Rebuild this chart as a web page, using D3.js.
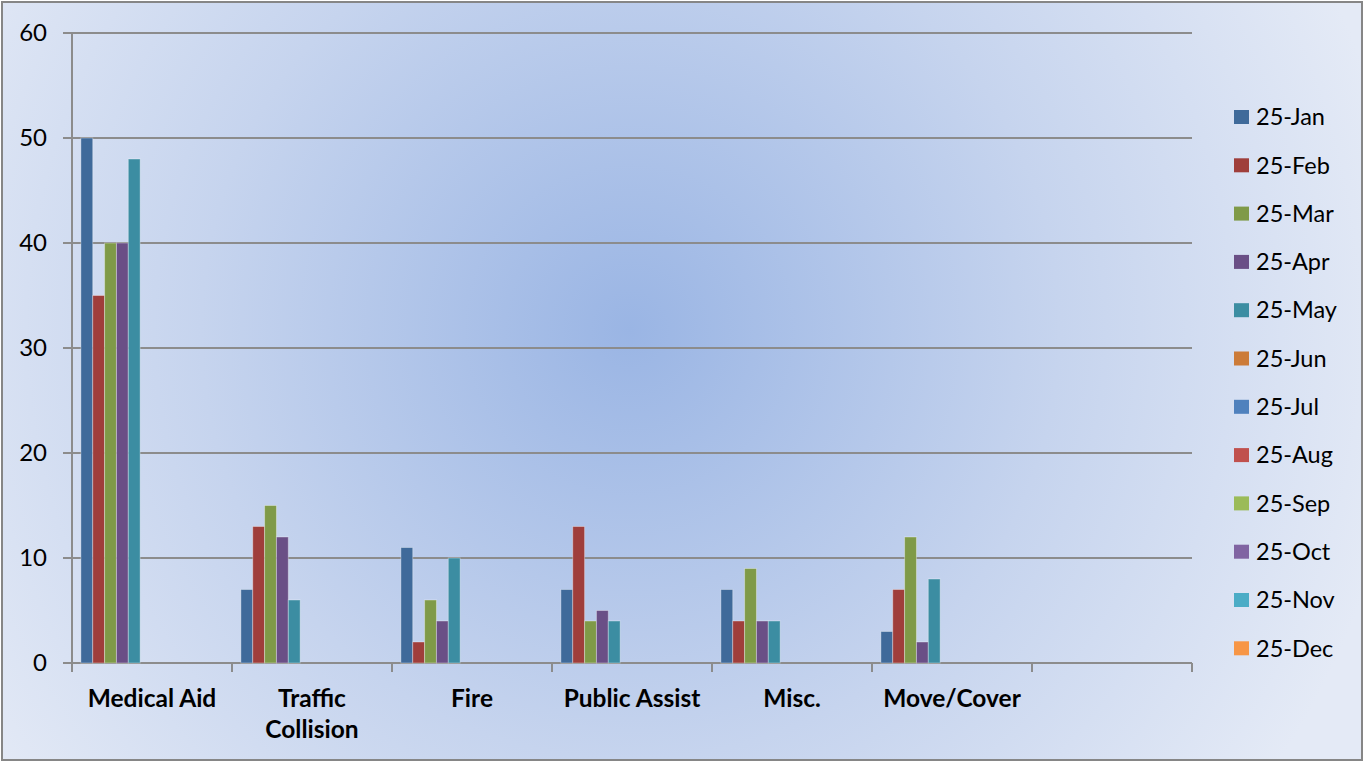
<!DOCTYPE html>
<html>
<head>
<meta charset="utf-8">
<script src="https://cdn.jsdelivr.net/npm/d3@7"></script>
<style>
  body { margin: 0; overflow: hidden; }
  text { font-family: Lato, "Open Sans", sans-serif; fill: #000; }
</style>
</head>
<body>
<div id="container"></div>
<script>
/* CONSTANTS AND GLOBALS */
const width = 1364;
const height = 762;
const plot = { left: 72, right: 1192, top: 33, bottom: 663 };

/* DATA */
const categories = ["Medical Aid", "Traffic Collision", "Fire", "Public Assist", "Misc.", "Move/Cover", ""];
const months = ["25-Jan", "25-Feb", "25-Mar", "25-Apr", "25-May", "25-Jun",
                "25-Jul", "25-Aug", "25-Sep", "25-Oct", "25-Nov", "25-Dec"];
const colors = ["#3F6A9A", "#9F3E3B", "#7F9A48", "#6A4F86", "#3C8DA2", "#CC7B38",
                "#4F81BD", "#C0504D", "#9BBB59", "#8064A2", "#4BACC6", "#F79646"];
const jan = [50, 7, 11, 7, 7, 3, null];
const feb = [35, 13, 2, 13, 4, 7, null];
const mar = [40, 15, 6, 4, 9, 12, null];
const apr = [40, 12, 4, 5, 4, 2, null];
const may = [48, 6, 10, 4, 4, 8, null];
const yTicks = [0, 10, 20, 30, 40, 50, 60];

const series = [jan, feb, mar, apr, may, [], [], [], [], [], [], []];

/* SVG */
const svg = d3.select("#container")
  .append("svg")
  .attr("width", width)
  .attr("height", height);

// background gradient
const defs = svg.append("defs");
const grad = defs.append("radialGradient")
  .attr("id", "bg")
  .attr("gradientUnits", "userSpaceOnUse")
  .attr("cx", 630).attr("cy", 330).attr("r", 780);
grad.append("stop").attr("offset", "0%").attr("stop-color", "#9AB5E4");
grad.append("stop").attr("offset", "55%").attr("stop-color", "#C6D4EE");
grad.append("stop").attr("offset", "100%").attr("stop-color", "#E4EAF6");

svg.append("rect")
  .attr("x", 2).attr("y", 2)
  .attr("width", width - 4).attr("height", height - 4)
  .attr("fill", "url(#bg)")
  .attr("stroke", "#868686")
  .attr("stroke-width", 2);

/* SCALES */
const x0 = d3.scaleBand()
  .domain(d3.range(categories.length))
  .range([plot.left, plot.right]);

const gap = x0.bandwidth() * 0.75 / 13.5;
const x1 = d3.scaleBand()
  .domain(d3.range(months.length))
  .range([gap, x0.bandwidth() - gap]);

const y = d3.scaleLinear()
  .domain([0, 60])
  .range([plot.bottom, plot.top]);

// gridlines
svg.append("g")
  .selectAll("line")
  .data(yTicks)
  .join("line")
  .attr("x1", plot.left - 9)
  .attr("x2", plot.right)
  .attr("y1", d => y(d))
  .attr("y2", d => y(d))
  .attr("stroke", "#8C8C8C")
  .attr("stroke-width", 2);

// y axis line
svg.append("line")
  .attr("x1", plot.left).attr("x2", plot.left)
  .attr("y1", plot.top).attr("y2", plot.bottom + 9)
  .attr("stroke", "#8C8C8C")
  .attr("stroke-width", 2);

// x ticks at category boundaries
svg.append("g")
  .selectAll("line")
  .data(d3.range(categories.length + 1))
  .join("line")
  .attr("x1", d => d < categories.length ? x0(d) : plot.right)
  .attr("x2", d => d < categories.length ? x0(d) : plot.right)
  .attr("y1", plot.bottom)
  .attr("y2", plot.bottom + 9)
  .attr("stroke", "#8C8C8C")
  .attr("stroke-width", 2);

// y tick labels
svg.append("g")
  .selectAll("text")
  .data(yTicks)
  .join("text")
  .attr("x", 47)
  .attr("y", d => y(d))
  .attr("dy", "0.35em")
  .attr("text-anchor", "end")
  .style("font-size", "24px")
  .text(d => d);

// bars
const groups = svg.append("g")
  .selectAll("g")
  .data(series)
  .join("g")
  .attr("fill", (d, i) => colors[i]);

groups.selectAll("rect")
  .data((d, i) => d.map((v, c) => ({ v, c, s: i })).filter(o => o.v != null))
  .join("rect")
  .attr("x", d => x0(d.c) + x1(d.s))
  .attr("y", d => y(d.v))
  .attr("width", x1.bandwidth())
  .attr("height", d => y(0) - y(d.v))
  .attr("stroke", "rgba(255,255,255,0.35)")
  .attr("stroke-width", 1);

// x labels
const xLab = svg.append("g")
  .selectAll("text")
  .data(categories)
  .join("text")
  .attr("text-anchor", "middle")
  .attr("y", 698)
  .style("font-size", "24.5px")
  .style("font-weight", "bold");

xLab.each(function (d, i) {
  const words = d === "Traffic Collision" ? ["Traffic", "Collision"] : [d];
  const cx = x0(i) + x0.bandwidth() / 2;
  d3.select(this).selectAll("tspan")
    .data(words)
    .join("tspan")
    .attr("x", cx)
    .attr("dy", (w, j) => j === 0 ? "0.35em" : "1.3em")
    .text(w => w);
});

// legend
const legend = svg.append("g")
  .selectAll("g")
  .data(months)
  .join("g")
  .attr("transform", (d, i) => `translate(1234, ${117 + i * 48.3})`);

legend.append("rect")
  .attr("x", 0).attr("y", -7)
  .attr("width", 15).attr("height", 14)
  .attr("fill", (d, i) => colors[i]);

legend.append("text")
  .attr("x", 22)
  .attr("dy", "0.35em")
  .style("font-size", "23.5px")
  .text(d => d);
</script>
</body>
</html>
